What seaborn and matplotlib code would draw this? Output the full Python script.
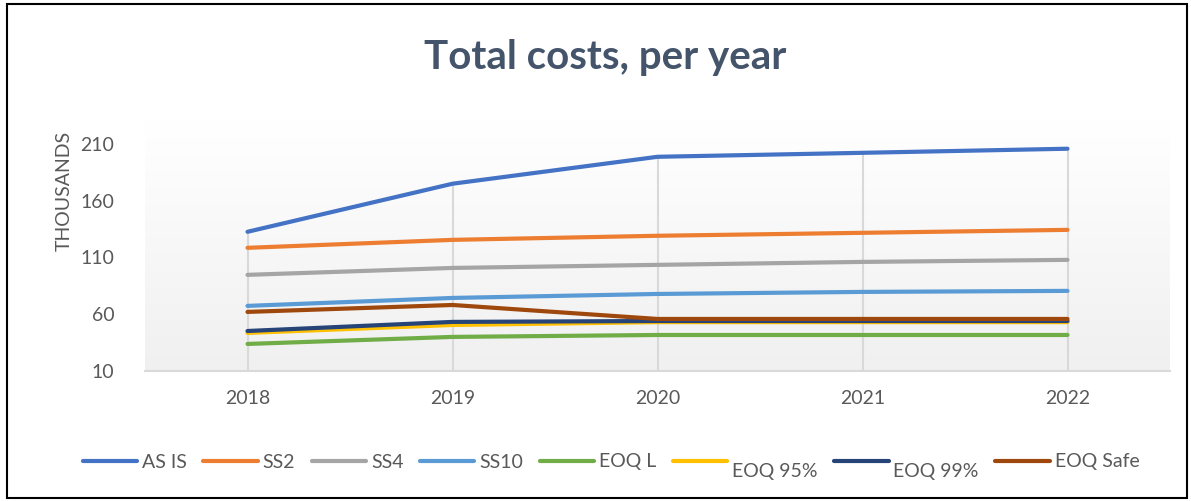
import numpy as np
import pandas as pd
import matplotlib
matplotlib.use("Agg")
import matplotlib.pyplot as plt
from matplotlib.patches import Rectangle
from matplotlib.colors import LinearSegmentedColormap
import seaborn as sns

years = ["2018", "2019", "2020", "2021", "2022"]
as_is = [132.5, 174.8, 198.5, 202.0, 205.6]
ss2 = [118.4, 125.4, 129.0, 131.6, 134.2]
ss4 = [94.6, 100.7, 103.4, 106.0, 107.8]
ss10 = [67.3, 74.3, 77.8, 79.6, 80.5]
eoq_l = [33.8, 40.0, 41.7, 41.7, 41.7]
eoq_95 = [43.5, 50.5, 53.0, 53.0, 53.0]
eoq_99 = [45.2, 53.2, 54.0, 54.0, 54.0]
eoq_safe = [62.0, 68.1, 55.8, 55.8, 55.8]

series_names = ["AS IS", "SS2", "SS4", "SS10", "EOQ L", "EOQ 95%", "EOQ 99%", "EOQ Safe"]
series_vals = [as_is, ss2, ss4, ss10, eoq_l, eoq_95, eoq_99, eoq_safe]
colors = ["#4472C4", "#ED7D31", "#A5A5A5", "#5B9BD5", "#70AD47", "#FFC000", "#264478", "#9E480E"]
yticks = [10, 60, 110, 160, 210]

rows = []
for name, vals in zip(series_names, series_vals):
    for i, v in enumerate(vals):
        rows.append({"series": name, "x": i, "value": v})
df = pd.DataFrame(rows)

sns.set_theme(style="white")
plt.rcParams["font.family"] = ["Lato", "DejaVu Sans"]

fig = plt.figure(figsize=(11.91, 5.01), dpi=100)
ax = fig.add_axes([145 / 1191, 1 - 371 / 501, (1170 - 145) / 1191, (371 - 121) / 501])

grad = np.linspace(0, 1, 256).reshape(-1, 1)
cmap = LinearSegmentedColormap.from_list("g", ["#F0F0F0", "#FFFFFF"])
ax.imshow(grad, extent=[-0.5, 4.5, 10, 230], aspect="auto", cmap=cmap,
          origin="lower", zorder=0)

sns.lineplot(data=df, x="x", y="value", hue="series", hue_order=series_names,
             palette=colors, linewidth=3, ax=ax, legend=True, zorder=3,
             solid_capstyle="round")

# drop lines from the highest point down to the axis
tops = df.groupby("x")["value"].max()
ax.vlines(tops.index, 10, tops.values, color="#D9D9D9", lw=1.5, zorder=1)

ax.set_xlim(-0.5, 4.5)
ax.set_ylim(10, 230)
ax.set_xticks(range(len(years)))
ax.set_xticklabels(years)
ax.set_yticks(yticks)
ax.tick_params(axis="both", length=0, labelsize=14, labelcolor="#595959")
ax.tick_params(axis="x", pad=14)
ax.tick_params(axis="y", pad=22)
for s in ["top", "right", "left"]:
    ax.spines[s].set_visible(False)
ax.spines["bottom"].set_color("#D9D9D9")
ax.spines["bottom"].set_linewidth(1.5)
ax.set_xlabel("")
ax.set_ylabel("THOUSANDS", fontsize=14, color="#595959")
ax.yaxis.set_label_coords(-0.07, 0.72)

handles, labels = ax.get_legend_handles_labels()
leg = ax.legend(handles, labels, loc="center", bbox_to_anchor=(0.513, 1 - 462 / 501),
                bbox_transform=fig.transFigure, ncol=8, frameon=False,
                fontsize=14, handlelength=2.8, handletextpad=0.25, columnspacing=0.85,
                labelcolor="#595959")
for t in leg.get_texts():
    if t.get_text() in ("EOQ 95%", "EOQ 99%"):
        t.set_y(-10)

fig.text(0.508, 1 - 58 / 501, "Total costs, per year", ha="center", va="center",
         fontsize=29, fontweight="bold", color="#44546A")

fig.patches.append(Rectangle((7 / 1191, 3 / 501), 1180 / 1191, 494 / 501,
                             transform=fig.transFigure, fill=False,
                             edgecolor="black", linewidth=1.5))

fig.savefig("out.png", dpi=100)
